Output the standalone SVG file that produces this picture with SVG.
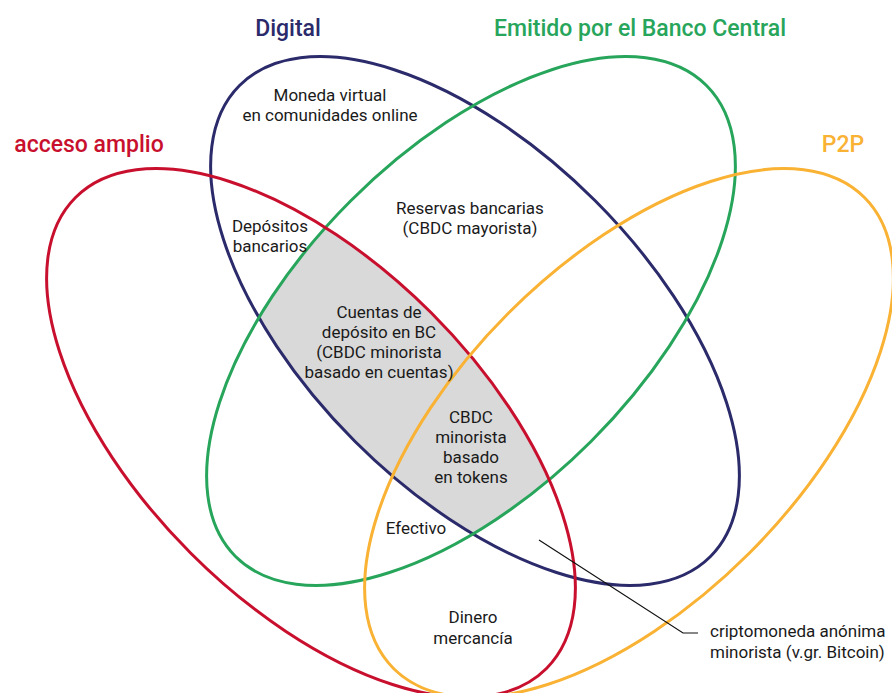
<svg xmlns="http://www.w3.org/2000/svg" width="892" height="693" viewBox="0 0 892 693">
<style>
.sh{fill:none;stroke-width:3}
.nv{stroke:#2b2a6b}
.gr{stroke:#27a55b}
.rd{stroke:#c8102e}
.or{stroke:#f9b233}
.ttl{font-family:Roboto,"Liberation Sans",sans-serif;font-size:23px;font-weight:500;text-anchor:middle}
.lb{font-family:Roboto,"Liberation Sans",sans-serif;font-size:17px;fill:#1a1a1a;text-anchor:middle}
.lbs{font-family:Roboto,"Liberation Sans",sans-serif;font-size:17px;fill:#1a1a1a}
</style>
<defs>
<clipPath id="cNavy"><ellipse cx="0" cy="0" rx="333" ry="170" transform="translate(475,321) rotate(45)"/></clipPath>
<clipPath id="cGreen"><ellipse cx="0" cy="0" rx="333" ry="170" transform="translate(471,321) rotate(-45)"/></clipPath>
</defs>
<g id="shade" clip-path="url(#cNavy)"><g clip-path="url(#cGreen)"><ellipse cx="0" cy="0" rx="333" ry="170" transform="translate(311,433) rotate(45)" fill="#d9d9d9"/></g></g>
<g id="digital"><ellipse class="sh nv" cx="0" cy="0" rx="333" ry="170" transform="translate(475,321) rotate(45)"/><text class="ttl" x="288" y="36" fill="#2b2a6b">Digital</text></g>
<g id="banco-central"><ellipse class="sh gr" cx="0" cy="0" rx="333" ry="170" transform="translate(471,321) rotate(-45)"/><text class="ttl" x="640" y="36" fill="#27a55b">Emitido por el Banco Central</text></g>
<g id="acceso-amplio"><ellipse class="sh rd" cx="0" cy="0" rx="333" ry="170" transform="translate(311,433) rotate(45)"/><text class="ttl" x="89" y="152" fill="#c8102e">acceso amplio</text></g>
<g id="p2p"><ellipse class="sh or" cx="0" cy="0" rx="333" ry="170" transform="translate(629,433) rotate(-45)"/><text class="ttl" x="843" y="152" fill="#f9b233">P2P</text></g>
<g id="moneda-virtual"><text class="lb" x="330" y="101">Moneda virtual</text><text class="lb" x="330" y="121">en comunidades online</text></g>
<g id="depositos"><text class="lb" x="270" y="232">Depósitos</text><text class="lb" x="270" y="252">bancarios</text></g>
<g id="reservas"><text class="lb" x="470" y="214">Reservas bancarias</text><text class="lb" x="470" y="234">(CBDC mayorista)</text></g>
<g id="cuentas-bc"><text class="lb" x="379" y="318">Cuentas de</text><text class="lb" x="379" y="338">depósito en BC</text><text class="lb" x="379" y="358">(CBDC minorista</text><text class="lb" x="379" y="378">basado en cuentas)</text></g>
<g id="cbdc-tokens"><text class="lb" x="471" y="423">CBDC</text><text class="lb" x="471" y="443">minorista</text><text class="lb" x="471" y="463">basado</text><text class="lb" x="471" y="483">en tokens</text></g>
<g id="efectivo"><text class="lb" x="416" y="534">Efectivo</text></g>
<g id="dinero-mercancia"><text class="lb" x="473" y="623">Dinero</text><text class="lb" x="473" y="644">mercancía</text></g>
<g id="cripto"><text class="lbs" x="710" y="637">criptomoneda anónima</text><text class="lbs" x="710" y="658">minorista (v.gr. Bitcoin)</text></g>
<g id="connectors"><polyline points="539,540 683,633 698,633" fill="none" stroke="#111" stroke-width="1.2"/></g>
</svg>
